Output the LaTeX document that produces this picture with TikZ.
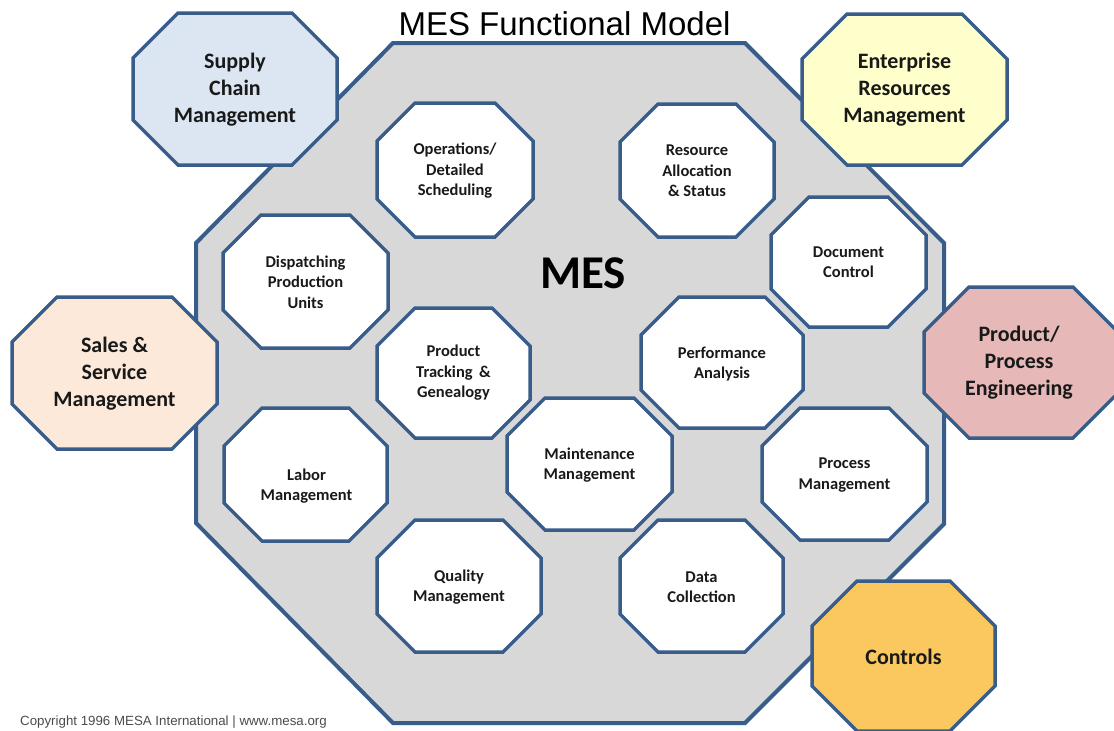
\documentclass[tikz,border=0pt]{standalone}
\usepackage{fontspec}
\setmainfont{Carlito}
\newfontfamily\arialf{Liberation Sans}
\definecolor{mesblue}{RGB}{56,93,138}
\definecolor{mesgray}{RGB}{216,216,216}
\definecolor{txtc}{RGB}{25,25,25}
\definecolor{supfill}{RGB}{220,230,242}
\definecolor{entfill}{RGB}{255,255,204}
\definecolor{salfill}{RGB}{253,233,217}
\definecolor{prdfill}{RGB}{230,185,184}
\definecolor{ctlfill}{RGB}{250,200,95}
\newcommand\octpath[6]{\path[#1] ({#2-#4+#6},{#3-#5}) -- ({#2+#4-#6},{#3-#5}) -- ({#2+#4},{#3-#5+#6}) -- ({#2+#4},{#3+#5-#6}) -- ({#2+#4-#6},{#3+#5}) -- ({#2-#4+#6},{#3+#5}) -- ({#2-#4},{#3+#5-#6}) -- ({#2-#4},{#3-#5+#6}) -- cycle;}
\tikzset{
  bigoct/.style={draw=mesblue, line width=4pt, fill=mesgray, line join=miter},
  smalloct/.style={draw=mesblue, line width=3.5pt, fill=white, line join=miter},
  outeroct/.style={draw=mesblue, line width=3.5pt, line join=miter},
  smalllbl/.style={align=center, font=\fontsize{16.5}{20.5}\selectfont\bfseries, text=txtc, inner sep=0pt},
  outerlbl/.style={align=center, font=\fontsize{22}{27}\selectfont\bfseries, text=txtc, inner sep=0pt},
}
\begin{document}
\begin{tikzpicture}[x=1pt, y=-1pt]
\useasboundingbox (0,0) rectangle (1114,731);
\fill[white] (0,0) rectangle (1114,731);
% big MES octagon
\path[bigoct] (393,43) -- (745,43) -- (944,243) -- (944,524) -- (745,723) -- (393,723) -- (196,523) -- (196,243) -- cycle;
% small octagons
\octpath{smalloct}{455}{170}{78}{67}{38}
\octpath{smalloct}{697}{170.5}{77}{66.5}{38}
\octpath{smalloct}{848.5}{262}{77.5}{65}{38}
\octpath{smalloct}{305.5}{281.5}{82.5}{66.5}{38}
\octpath{smalloct}{453.5}{373}{76.5}{65}{38}
\octpath{smalloct}{722}{362.5}{81}{65.5}{38}
\octpath{smalloct}{589.5}{464}{82.5}{66}{38}
\octpath{smalloct}{305.5}{474.5}{81.5}{66.5}{38}
\octpath{smalloct}{844.5}{474}{82.5}{66}{38}
\octpath{smalloct}{459}{586}{82}{66}{38}
\octpath{smalloct}{701.5}{586}{81.5}{66}{38}
% outer octagons
\octpath{outeroct, fill=supfill}{235}{89}{102}{76}{45}
\octpath{outeroct, fill=entfill}{904.5}{89.5}{102.5}{75.5}{45}
\octpath{outeroct, fill=salfill}{114.5}{373}{102.5}{76}{45}
\octpath{outeroct, fill=prdfill}{1021}{362.5}{97}{75.5}{45}
\octpath{outeroct, fill=ctlfill}{903.5}{656}{91.5}{75}{45}
% title and MES
\node[font=\arialf\fontsize{33}{38}\selectfont, text=black, anchor=base, inner sep=0pt] (title) at (564.5,35) {MES Functional Model};
\node[font=\fontsize{47}{50}\selectfont\bfseries, text=black, anchor=base, inner sep=0pt] (mes) at (583,288) {MES};
% small labels
\node[smalllbl] (ops) at (455,171) {Operations/\\Detailed\\Scheduling};
\node[smalllbl] (res) at (697,171) {Resource\\Allocation\\\& Status};
\node[smalllbl] (doc) at (848.5,262) {Document\\Control};
\node[smalllbl] (disp) at (305.5,282) {Dispatching\\Production\\Units};
\node[smalllbl] (prod) at (453.5,373) {Product\\Tracking \,\&\\Genealogy};
\node[smalllbl] (perf) at (722,364) {Performance\\Analysis};
\node[smalllbl] (maint) at (589.5,465) {Maintenance\\Management};
\node[smalllbl] (labor) at (306.5,486) {Labor\\Management};
\node[smalllbl] (proc) at (844.5,475) {Process\\Management};
\node[smalllbl] (qual) at (459,587) {Quality\\Management};
\node[smalllbl] (data) at (701.5,587) {Data\\Collection};
% outer labels
\node[outerlbl] (sup) at (235,90) {Supply\\Chain\\Management};
\node[outerlbl] (ent) at (904.5,90) {Enterprise\\Resources\\Management};
\node[outerlbl] (sal) at (114.5,374) {Sales \&\\Service\\Management};
\node[outerlbl] (prd) at (1019,363) {Product/\\Process\\Engineering};
\node[outerlbl] (ctl) at (903.5,657) {Controls};
% copyright
\node[font=\arialf\fontsize{13.3}{15}\selectfont, text=black!70, anchor=base west, inner sep=0pt] (copy) at (20,725) {Copyright 1996 MESA International | www.mesa.org};
\end{tikzpicture}
\end{document}
